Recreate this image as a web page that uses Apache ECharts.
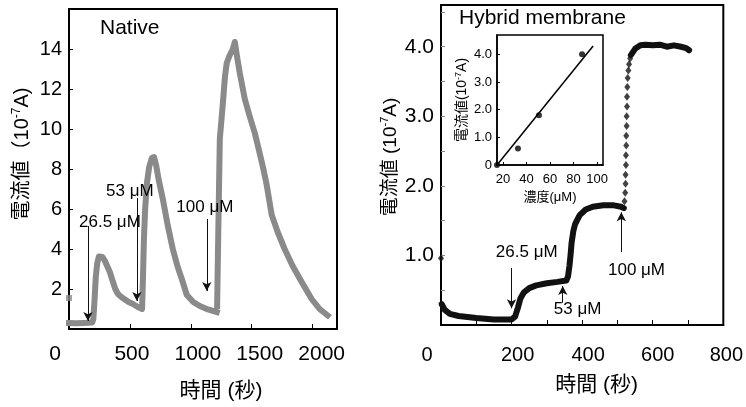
<!DOCTYPE html>
<html><head><meta charset="utf-8">
<script src="https://cdn.jsdelivr.net/npm/echarts@6/dist/echarts.min.js"></script>
<style>html,body{margin:0;padding:0;background:#fff}#c{width:746px;height:407px}</style>
</head><body><div id="c"></div>
<script>
// ---------- data ----------
const nativeStart = [[0, 1.55]];
const nativeCurve = [
  [0,0.3],[60,0.29],[120,0.3],[190,0.32],[200,0.5],[210,1.5],[220,2.6],[232,3.3],[245,3.62],[260,3.72],
  [275,3.6],[295,3.4],[311,3.3],[335,2.85],[361,2.35],[380,2.0],[402,1.75],[430,1.6],[459,1.48],[490,1.35],
  [525,1.25],[565,1.1],[600,1.0],[607,2.5],[615,4.5],[625,6.0],[640,7.3],[658,8.1],[680,8.55],[698,8.6],
  [715,8.2],[735,7.5],[770,6.5],[810,5.2],[852,4.0],[890,3.15],[926,2.5],[967,1.7],[1020,1.35],[1074,1.15],
  [1140,0.98],[1213,0.85],
  null,
  [1216,1.15],[1222,3.5],[1230,6.5],[1238,9.5],[1262,11.2],[1280,12.6],[1295,13.3],[1320,13.7],[1345,14.0],
  [1361,14.35],[1380,13.6],[1402,12.8],[1443,11.5],[1485,10.6],[1525,9.8],[1557,9.0],[1590,8.15],[1620,7.3],
  [1645,6.4],[1664,5.7],[1713,4.85],[1770,4.0],[1836,3.15],[1910,2.35],[1992,1.5],[2057,1.0],[2123,0.68]
];
const hybridStart = [[0, 0.96]];
const hybridCurve = [
  [2,0.3],[10,0.22],[25,0.16],[50,0.13],[100,0.1],[150,0.08],[200,0.08],[210,0.12],[218,0.25],[225,0.38],
  [235,0.47],[250,0.53],[270,0.57],[300,0.6],[330,0.62],[355,0.64],[360,0.7],[364,0.85],[367,1.0],[370,1.18],
  [375,1.35],[380,1.45],[393,1.58],[410,1.66],[430,1.7],[460,1.72],[490,1.72],[510,1.7],[518,1.68],
  null,
  [538,3.88],[550,3.97],[565,4.02],[580,4.03],[600,4.02],[620,4.03],[640,4.0],[660,4.02],[680,4.0],[695,3.98],[703,3.95]
];
const hybridRise = [
  [520,1.78],[522,1.9],[523,2.03],[523,2.16],[524,2.3],[524,2.44],[525,2.58],[525,2.72],[526,2.86],[526,3.0],
  [527,3.14],[527,3.28],[528,3.42],[529,3.55],[531,3.66],[533,3.75],[536,3.83]
];
const insetConc = [15, 32.8, 50.6, 87.2];
const insetCurrent = [0, 0.6, 1.8, 4.0];
const insetFit = [[15, 0], [96.6, 4.3]];

const nativeXLabels = [0, 500, 1000, 1500, 2000];
const nativeXTicks = [500, 1000, 1500, 2000];
const nativeYLabels = [2, 4, 6, 8, 10, 12, 14];
const hybridXLabels = [0, 200, 400, 600, 800];
const hybridXTicks = [100, 200, 300, 400, 500, 600, 700];
const hybridYLabels = [1, 2, 3, 4];
const hybridYTicks = [0.5, 1, 1.5, 2, 2.5, 3, 3.5, 4, 4.5];
const insetXLabels = [20, 40, 60, 80, 100];
const insetYLabels = [0, 1, 2, 3, 4];

// annotations: arrow x, arrow start y, arrow end y, label text, label x, label y
const nativeArrows = [
  {x:156, y1:5.15, y2:0.4, text:'26.5 μM', tx:336, ty:5.35},
  {x:557, y1:6.55, y2:1.4, text:'53 μM', tx:500, ty:6.9},
  {x:1131, y1:5.5, y2:1.9, text:'100 μM', tx:1115, ty:6.1}
];
const hybridArrows = [
  {x:200, y1:0.82, y2:0.24, text:'26.5 μM', tx:243, ty:1.04},
  {x:345, y1:0.32, y2:0.56, text:'53 μM', tx:387, ty:0.22},
  {x:511, y1:1.05, y2:1.62, text:'100 μM', tx:554, ty:0.79}
];

// ---------- styling ----------
const FONT = "'Liberation Sans', Arial, 'Noto Sans CJK JP', sans-serif";
const nativeShift = {0:-14, 500:2, 1000:7, 1500:8, 2000:9};
const hybridShift = {0:-14, 200:6, 400:6, 600:5, 800:3};
function shiftRich(map, fs) {
  const r = {};
  Object.values(map).forEach(s => {
    const k = (s < 0 ? 'm' : 'p') + Math.abs(s);
    r[k] = {fontSize: fs, fontFamily: FONT, color: '#000',
            padding: s < 0 ? [0, -2*s, 0, 0] : [0, 0, 0, 2*s]};
  });
  return r;
}
function shiftFmt(map) {
  return v => { const s = map[v] || 0; return '{' + (s < 0 ? 'm' : 'p') + Math.abs(s) + '|' + v + '}'; };
}
const supRich = fs => ({s: {fontSize: fs, fontFamily: FONT, verticalAlign: 'top', lineHeight: fs, color:'#000'}});

const chart = echarts.init(document.getElementById('c'), null, {renderer: 'canvas'});

function arrowLines(arr) {
  return arr.map(a => [{coord: [a.x, a.y1]}, {coord: [a.x, a.y2]}]);
}
function arrowTexts(arr) {
  return arr.map(a => ({coord: [a.tx, a.ty], name: a.text}));
}
const markLineStyle = {
  silent: true, symbol: ['none', 'arrow'], symbolSize: [7, 9],
  lineStyle: {color: '#111', width: 1, type: 'solid'}, label: {show: false}, animation: false
};
const markPointStyle = fs => ({
  silent: true, symbol: 'circle', symbolSize: 1, itemStyle: {color: 'rgba(0,0,0,0)'},
  label: {show: true, position: 'inside', formatter: '{b}', color: '#000', fontSize: fs, fontFamily: FONT}, animation: false
});

const option = {
  animation: false,
  backgroundColor: '#fff',
  textStyle: {fontFamily: FONT},
  title: [
    {text: 'Native', left: 100, top: 18, padding: 0, textStyle: {fontSize: 21, fontWeight: 'normal', color: '#000', fontFamily: FONT}},
    {text: 'Hybrid membrane', left: 459, top: 8, padding: 0, textStyle: {fontSize: 21, fontWeight: 'normal', color: '#000', fontFamily: FONT}}
  ],
  grid: [
    {left: 69, top: 9, width: 268, height: 320, show: true, borderColor: '#000', borderWidth: 2},
    {left: 441, top: 5, width: 283, height: 320, show: true, borderColor: '#000', borderWidth: 2},
    {left: 497, top: 35, width: 106, height: 130, show: true, borderColor: '#000', borderWidth: 1.5, backgroundColor: '#fff', z: 5}
  ],
  xAxis: [
    {gridIndex: 0, type: 'value', min: 0, max: 2200,
     axisLine: {onZero: false, lineStyle: {color: '#000', width: 2}},
     axisTick: {inside: true, length: 5, customValues: nativeXTicks, lineStyle: {color: '#000'}},
     axisLabel: {customValues: nativeXLabels, margin: 15, formatter: shiftFmt(nativeShift), rich: shiftRich(nativeShift, 21), fontSize: 21, color: '#000'},
     splitLine: {show: false},
     name: '時間 (秒)', nameLocation: 'middle', nameGap: 52,
     nameTextStyle: {fontSize: 21, color: '#000', fontFamily: FONT, padding: [0, 0, 0, 36]}},
    {gridIndex: 1, type: 'value', min: 0, max: 800,
     axisLine: {onZero: false, lineStyle: {color: '#000', width: 2}},
     axisTick: {inside: true, length: 5, customValues: hybridXTicks, lineStyle: {color: '#000'}},
     axisLabel: {customValues: hybridXLabels, margin: 20, formatter: shiftFmt(hybridShift), rich: shiftRich(hybridShift, 20), fontSize: 20, color: '#000'},
     splitLine: {show: false},
     name: '時間 (秒)', nameLocation: 'middle', nameGap: 50,
     nameTextStyle: {fontSize: 21, color: '#000', fontFamily: FONT, padding: [0, 0, 0, 29]}},
    {gridIndex: 2, type: 'value', min: 15, max: 105, z: 6,
     axisLine: {onZero: false, lineStyle: {color: '#000', width: 1.5}},
     axisTick: {inside: true, length: 3, customValues: insetXLabels, lineStyle: {color: '#000'}},
     axisLabel: {customValues: insetXLabels, margin: 8, fontSize: 13, color: '#000'},
     splitLine: {show: false},
     name: '濃度(μM)', nameLocation: 'middle', nameGap: 26,
     nameTextStyle: {fontSize: 13, color: '#000', fontFamily: FONT}}
  ],
  yAxis: [
    {gridIndex: 0, type: 'value', min: 0, max: 16,
     axisLine: {onZero: false, lineStyle: {color: '#000', width: 2}},
     axisTick: {inside: true, length: 4, customValues: nativeYLabels, lineStyle: {color: '#000'}},
     axisLabel: {customValues: nativeYLabels, margin: 7, fontSize: 20, color: '#000'},
     splitLine: {show: false},
     name: '電流値（10{s|-7}A)', nameLocation: 'middle', nameGap: 36,
     nameTextStyle: {fontSize: 20, color: '#000', fontFamily: FONT, lineHeight: 22, padding: [0, 0, 0, 30], rich: supRich(12)}},
    {gridIndex: 1, type: 'value', min: 0, max: 4.6,
     axisLine: {onZero: false, lineStyle: {color: '#000', width: 2}},
     axisTick: {inside: true, length: 4, customValues: hybridYTicks, lineStyle: {color: '#888'}},
     axisLabel: {customValues: hybridYLabels, margin: 7, fontSize: 21, color: '#000', formatter: v => v.toFixed(1)},
     splitLine: {show: false},
     name: '電流値 (10{s|-7}A)', nameLocation: 'middle', nameGap: 40,
     nameTextStyle: {fontSize: 19, color: '#000', fontFamily: FONT, lineHeight: 21, padding: [0, 0, 0, 16], rich: supRich(11)}},
    {gridIndex: 2, type: 'value', min: 0, max: 4.7, z: 6,
     axisLine: {onZero: false, lineStyle: {color: '#000', width: 1.5}},
     axisTick: {inside: true, length: 3, customValues: insetYLabels, lineStyle: {color: '#000'}},
     axisLabel: {customValues: insetYLabels, margin: 5, fontSize: 13, color: '#000', formatter: v => v === 0 ? '0' : v.toFixed(1)},
     splitLine: {show: false},
     name: '電流値(10{s|-7}A)', nameLocation: 'middle', nameGap: 24,
     nameTextStyle: {fontSize: 14, color: '#000', fontFamily: FONT, lineHeight: 16, rich: supRich(9)}}
  ],
  series: [
    {type: 'line', xAxisIndex: 0, yAxisIndex: 0, data: nativeCurve, showSymbol: false, connectNulls: false,
     lineStyle: {color: '#8a8a8a', width: 6, cap: 'square', join: 'round'}, itemStyle: {color: '#8a8a8a'},
     markLine: Object.assign({data: arrowLines(nativeArrows)}, markLineStyle),
     markPoint: Object.assign({data: arrowTexts(nativeArrows)}, markPointStyle(17))},
    {type: 'scatter', xAxisIndex: 0, yAxisIndex: 0, data: nativeStart, symbol: 'rect', symbolSize: 6, clip: false,
     itemStyle: {color: '#8a8a8a'}},
    {type: 'line', xAxisIndex: 1, yAxisIndex: 1, data: hybridCurve, showSymbol: false, connectNulls: false,
     lineStyle: {color: '#111', width: 6, cap: 'round', join: 'round'}, itemStyle: {color: '#111'},
     markLine: Object.assign({data: arrowLines(hybridArrows)}, markLineStyle),
     markPoint: Object.assign({data: arrowTexts(hybridArrows)}, markPointStyle(17))},
    {type: 'scatter', xAxisIndex: 1, yAxisIndex: 1, data: hybridRise, symbol: 'diamond', symbolSize: [6, 8],
     itemStyle: {color: '#111'}},
    {type: 'scatter', xAxisIndex: 1, yAxisIndex: 1, data: hybridStart, symbol: 'diamond', symbolSize: [6, 8], clip: false,
     itemStyle: {color: '#111'}},
    {type: 'scatter', xAxisIndex: 2, yAxisIndex: 2, z: 7, clip: false,
     data: insetConc.map((c, i) => [c, insetCurrent[i]]), symbol: 'circle', symbolSize: 6, itemStyle: {color: '#000'}},
    {type: 'line', xAxisIndex: 2, yAxisIndex: 2, z: 7, data: insetFit, showSymbol: false,
     lineStyle: {color: '#000', width: 1.5}}
  ]
};
chart.setOption(option);
</script>
</body></html>
